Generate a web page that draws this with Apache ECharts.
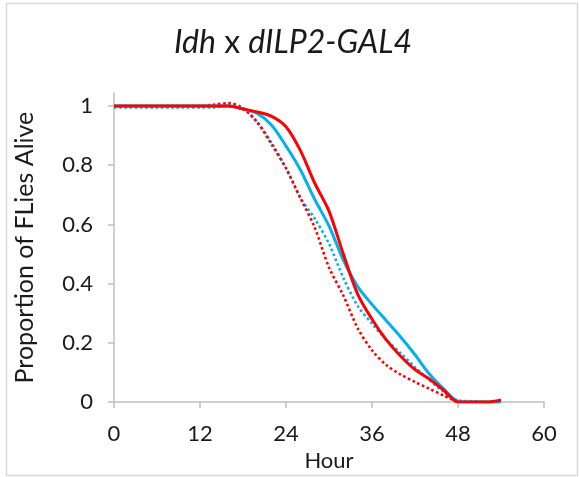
<!DOCTYPE html>
<html>
<head>
<meta charset="utf-8">
<script src="https://cdn.jsdelivr.net/npm/echarts@6/dist/echarts.min.js"></script>
<style>html,body{margin:0;padding:0;background:#fff}#c{width:579px;height:477px}</style>
</head>
<body>
<div id="c"></div>
<script>
const hours = [0,2,4,6,8,10,12,14,16,18,20,22,24,26,28,30,32,34,36,38,40,42,44,46,48,50,52,54];
const xTicks = [0,12,24,36,48,60];
const yTicks = [0,0.2,0.4,0.6,0.8,1];
const redSolid = [1,1,1,1,1,1,1,1,1,0.99,0.98,0.965,0.93,0.85,0.74,0.645,0.50,0.365,0.28,0.21,0.155,0.11,0.078,0.04,0,0,0,0.007];
const blueSolid = [1,1,1,1,1,1,1,1,1,0.99,0.975,0.935,0.865,0.785,0.685,0.595,0.48,0.39,0.33,0.275,0.22,0.16,0.095,0.045,0.003,0,0,0];
const blueDotted = [0.995,0.995,0.995,0.995,0.995,0.995,0.995,0.995,1.003,0.99,0.945,0.875,0.79,0.69,0.62,0.535,0.42,0.325,0.265,0.21,0.165,0.118,0.075,0.035,0.006,0.003,0,0];
const redDotted = [1,1,1,1,1,1,1,1.005,1.01,0.993,0.945,0.87,0.79,0.69,0.59,0.455,0.36,0.25,0.175,0.125,0.093,0.068,0.045,0.022,0,null,null,null];

const pairs = arr => hours.map((h,i) => [h, arr[i]]).filter(p => p[1] !== null);
const FONT = 'Lato';
const axisCol = '#BFBFBF';
const txtCol = '#1a1a1a';

function mk(name, arr, color, dotted, z) {
  return {
    name, type: 'line', data: pairs(arr), smooth: 0.3, showSymbol: false, z,
    lineStyle: { color, width: dotted ? 2.6 : 3, type: dotted ? [2.6, 2.6] : 'solid', cap: 'butt' }
  };
}

const chart = echarts.init(document.getElementById('c'), null, {renderer: 'canvas'});
chart.setOption({
  animation: false,
  backgroundColor: '#fff',
  title: {
    text: '{i|Idh} x {i|dILP2-GAL4}',
    left: 169, top: 22,
    textStyle: { fontFamily: FONT, fontSize: 32, fontWeight: 'normal', color: txtCol,
      rich: { i: { fontFamily: FONT, fontSize: 32, fontStyle: 'italic', color: txtCol } } }
  },
  graphic: [{ type: 'rect', shape: { x: 6.5, y: 3.5, width: 571, height: 472 }, style: { fill: 'none', stroke: '#D9D9D9', lineWidth: 1.5 }, silent: true }],
  grid: { left: 114, right: 35, top: 93, bottom: 74 },
  xAxis: {
    type: 'value', min: 0, max: 60, interval: 12,
    name: 'Hour', nameLocation: 'middle', nameGap: 44,
    nameTextStyle: { fontFamily: FONT, fontSize: 22, color: txtCol },
    axisLine: { lineStyle: { color: axisCol, width: 1.5 } },
    axisTick: { show: true, length: 6, lineStyle: { color: axisCol, width: 1.5 } },
    axisLabel: { fontFamily: FONT, fontSize: 22, color: txtCol, margin: 21 },
    splitLine: { show: false }
  },
  yAxis: {
    type: 'value', min: 0, max: 1.044,
    name: 'Proportion of FLies Alive', nameLocation: 'middle', nameGap: 77,
    nameTextStyle: { fontFamily: FONT, fontSize: 25, color: txtCol },
    axisLine: { show: true, lineStyle: { color: axisCol, width: 1.5 } },
    axisTick: { show: true, length: 6, lineStyle: { color: axisCol, width: 1.5 }, customValues: yTicks },
    axisLabel: { fontFamily: FONT, fontSize: 22, color: txtCol, margin: 21, customValues: yTicks,
      formatter: v => String(Math.round(v * 10) / 10) },
    splitLine: { show: false }
  },
  series: [
    mk('Blue dotted', blueDotted, '#00B0F0', true, 2),
    mk('Red dotted', redDotted, '#FF0000', true, 3),
    mk('Blue solid', blueSolid, '#00B0F0', false, 4),
    mk('Red solid', redSolid, '#FF0000', false, 5)
  ]
});
</script>
</body>
</html>
